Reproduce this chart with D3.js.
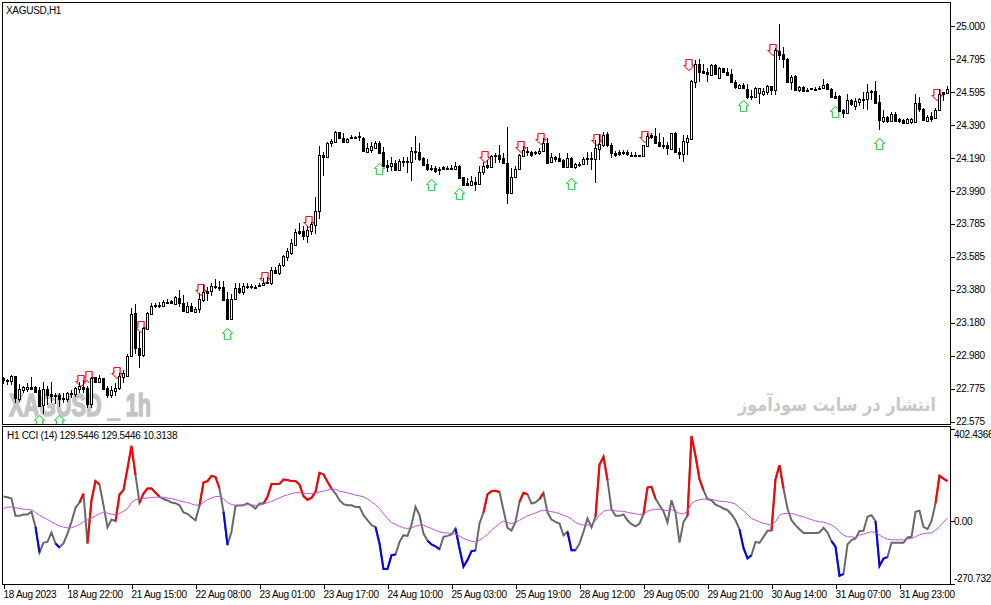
<!DOCTYPE html>
<html>
<head>
<meta charset="utf-8">
<title>XAGUSD H1</title>
<script src="https://cdn.jsdelivr.net/npm/d3@7"></script>
<style>
  html, body { margin: 0; padding: 0; background: #fff; }
  svg { display: block; }
  text { font-family: "Liberation Sans", sans-serif; font-size: 10px; letter-spacing: -0.3px; fill: #000; }
</style>
</head>
<body>
<div id="chart"></div>
<script>
// Hourly candles
const barOpen = [
  22.842,22.830,22.823,22.854,22.713,22.768,22.775,22.787,22.787,22.768,
  22.676,22.775,22.744,22.738,22.738,22.719,22.713,22.744,22.744,22.775,
  22.787,22.781,22.682,22.848,22.817,22.842,22.781,22.738,22.762,22.781,
  22.848,22.854,22.977,23.240,23.026,22.983,23.142,23.234,23.283,23.289,
  23.283,23.302,23.314,23.295,23.332,23.302,23.246,23.283,23.246,23.265,
  23.320,23.375,23.375,23.400,23.400,23.400,23.326,23.203,23.326,23.394,
  23.369,23.400,23.406,23.400,23.406,23.412,23.430,23.424,23.504,23.485,
  23.535,23.584,23.608,23.657,23.743,23.743,23.712,23.743,23.780,23.866,
  24.209,24.197,24.282,24.289,24.350,24.313,24.289,24.313,24.319,24.325,
  24.313,24.227,24.239,24.252,24.282,24.227,24.148,24.141,24.160,24.117,
  24.172,24.166,24.166,24.233,24.227,24.191,24.154,24.129,24.129,24.123,
  24.135,24.129,24.129,24.123,24.141,24.074,24.037,24.025,24.043,24.031,
  24.105,24.148,24.135,24.209,24.209,24.191,24.160,23.976,24.074,24.123,
  24.203,24.233,24.227,24.221,24.221,24.233,24.282,24.166,24.197,24.191,
  24.178,24.135,24.191,24.135,24.154,24.154,24.184,24.191,24.184,24.246,
  24.270,24.338,24.270,24.221,24.227,24.227,24.227,24.209,24.209,24.209,
  24.203,24.264,24.332,24.325,24.289,24.270,24.270,24.246,24.344,24.227,
  24.215,24.289,24.307,24.657,24.767,24.724,24.718,24.700,24.761,24.681,
  24.742,24.718,24.706,24.657,24.620,24.638,24.614,24.571,24.565,24.589,
  24.583,24.595,24.632,24.608,24.847,24.828,24.798,24.657,24.693,24.608,
  24.626,24.608,24.620,24.614,24.620,24.620,24.644,24.614,24.571,24.571,
  24.485,24.466,24.546,24.509,24.534,24.552,24.552,24.601,24.601,24.534,
  24.417,24.442,24.417,24.460,24.430,24.423,24.405,24.411,24.411,24.528,
  24.491,24.417,24.448,24.436,24.485,24.595,24.589
];
const barHigh = [
  22.848,22.836,22.860,22.854,22.805,22.793,22.811,22.848,22.793,22.787,
  22.817,22.793,22.817,22.750,22.750,22.750,22.756,22.768,22.787,22.817,
  22.830,22.793,22.848,22.848,22.860,22.842,22.793,22.793,22.811,22.873,
  22.891,22.989,23.271,23.295,23.124,23.154,23.246,23.302,23.302,23.308,
  23.320,23.326,23.320,23.345,23.381,23.351,23.308,23.302,23.277,23.363,
  23.418,23.400,23.424,23.449,23.436,23.436,23.369,23.357,23.424,23.424,
  23.424,23.424,23.418,23.412,23.424,23.455,23.461,23.522,23.522,23.547,
  23.596,23.639,23.694,23.755,23.792,23.774,23.774,23.798,23.951,24.264,
  24.227,24.289,24.307,24.356,24.350,24.344,24.313,24.332,24.325,24.350,
  24.319,24.282,24.289,24.295,24.295,24.258,24.178,24.197,24.178,24.184,
  24.197,24.197,24.258,24.325,24.282,24.197,24.184,24.148,24.141,24.135,
  24.141,24.141,24.148,24.166,24.148,24.074,24.068,24.080,24.074,24.141,
  24.166,24.178,24.209,24.221,24.270,24.221,24.380,24.129,24.141,24.215,
  24.264,24.258,24.233,24.233,24.252,24.313,24.313,24.221,24.203,24.221,
  24.184,24.221,24.197,24.160,24.166,24.197,24.227,24.227,24.301,24.332,
  24.350,24.350,24.282,24.233,24.239,24.239,24.239,24.227,24.227,24.209,
  24.270,24.344,24.344,24.374,24.344,24.319,24.289,24.344,24.350,24.252,
  24.332,24.332,24.669,24.792,24.798,24.767,24.742,24.767,24.767,24.748,
  24.742,24.742,24.736,24.669,24.644,24.650,24.644,24.608,24.626,24.620,
  24.620,24.638,24.632,24.865,25.012,24.871,24.804,24.700,24.700,24.632,
  24.632,24.620,24.620,24.626,24.632,24.675,24.650,24.620,24.595,24.577,
  24.491,24.583,24.552,24.558,24.558,24.595,24.644,24.608,24.663,24.577,
  24.485,24.448,24.473,24.473,24.436,24.430,24.436,24.436,24.583,24.565,
  24.497,24.454,24.473,24.497,24.614,24.595,24.632
];
const barLow = [
  22.805,22.799,22.799,22.689,22.695,22.750,22.756,22.775,22.750,22.664,
  22.621,22.676,22.689,22.682,22.664,22.689,22.695,22.719,22.725,22.750,
  22.750,22.658,22.658,22.811,22.811,22.775,22.719,22.719,22.732,22.768,
  22.811,22.848,22.971,22.989,22.903,22.971,23.136,23.234,23.271,23.271,
  23.277,23.302,23.295,23.289,23.277,23.246,23.246,23.246,23.240,23.240,
  23.308,23.314,23.345,23.387,23.375,23.314,23.197,23.197,23.320,23.357,
  23.351,23.387,23.387,23.387,23.406,23.406,23.418,23.412,23.485,23.473,
  23.522,23.559,23.596,23.651,23.718,23.688,23.669,23.718,23.725,23.817,
  24.080,24.191,24.258,24.282,24.307,24.282,24.282,24.307,24.307,24.295,
  24.227,24.221,24.221,24.246,24.215,24.135,24.105,24.111,24.111,24.111,
  24.135,24.098,24.049,24.178,24.172,24.141,24.111,24.111,24.098,24.086,
  24.123,24.117,24.117,24.117,24.062,24.019,24.025,24.019,23.988,24.025,
  24.086,24.123,24.135,24.160,24.160,24.154,23.908,23.976,24.068,24.117,
  24.197,24.203,24.197,24.209,24.209,24.227,24.154,24.160,24.166,24.166,
  24.129,24.135,24.135,24.123,24.135,24.148,24.148,24.117,24.037,24.178,
  24.258,24.258,24.191,24.197,24.203,24.209,24.203,24.203,24.203,24.197,
  24.197,24.258,24.307,24.282,24.258,24.246,24.209,24.246,24.221,24.184,
  24.166,24.209,24.301,24.620,24.657,24.706,24.657,24.693,24.700,24.681,
  24.712,24.693,24.657,24.614,24.614,24.614,24.552,24.546,24.558,24.522,
  24.571,24.577,24.577,24.577,24.792,24.742,24.657,24.608,24.601,24.595,
  24.595,24.595,24.608,24.601,24.608,24.614,24.608,24.558,24.558,24.473,
  24.436,24.466,24.509,24.485,24.509,24.491,24.485,24.546,24.522,24.362,
  24.405,24.405,24.411,24.411,24.405,24.399,24.399,24.399,24.405,24.473,
  24.417,24.411,24.411,24.430,24.479,24.540,24.583
];
const barClose = [
  22.830,22.823,22.854,22.719,22.775,22.787,22.787,22.775,22.756,22.670,
  22.775,22.738,22.732,22.732,22.713,22.713,22.750,22.750,22.781,22.793,
  22.775,22.682,22.842,22.817,22.842,22.775,22.738,22.768,22.781,22.854,
  22.873,22.977,23.234,23.026,22.983,23.148,23.240,23.283,23.289,23.283,
  23.308,23.308,23.302,23.338,23.302,23.253,23.283,23.253,23.265,23.326,
  23.369,23.363,23.406,23.406,23.394,23.320,23.203,23.326,23.394,23.369,
  23.406,23.406,23.400,23.394,23.412,23.424,23.424,23.504,23.485,23.535,
  23.590,23.620,23.669,23.737,23.731,23.712,23.749,23.786,23.866,24.209,
  24.197,24.282,24.295,24.350,24.313,24.289,24.307,24.319,24.313,24.319,
  24.233,24.252,24.264,24.282,24.221,24.141,24.135,24.160,24.117,24.172,
  24.166,24.172,24.233,24.227,24.184,24.148,24.123,24.123,24.111,24.117,
  24.123,24.123,24.123,24.141,24.068,24.025,24.025,24.049,24.031,24.105,
  24.141,24.135,24.203,24.203,24.184,24.160,23.976,24.074,24.123,24.209,
  24.239,24.227,24.209,24.227,24.233,24.282,24.160,24.197,24.184,24.172,
  24.135,24.191,24.135,24.154,24.148,24.184,24.191,24.184,24.252,24.276,
  24.332,24.270,24.221,24.209,24.215,24.221,24.215,24.203,24.203,24.203,
  24.270,24.325,24.319,24.282,24.264,24.264,24.252,24.344,24.227,24.215,
  24.295,24.313,24.663,24.767,24.718,24.712,24.706,24.761,24.706,24.742,
  24.718,24.700,24.657,24.626,24.638,24.620,24.565,24.565,24.620,24.620,
  24.601,24.632,24.608,24.853,24.822,24.798,24.657,24.687,24.608,24.626,
  24.601,24.601,24.614,24.608,24.614,24.638,24.614,24.565,24.558,24.479,
  24.466,24.546,24.522,24.540,24.552,24.546,24.595,24.595,24.528,24.423,
  24.442,24.417,24.460,24.417,24.417,24.405,24.430,24.430,24.528,24.491,
  24.423,24.442,24.430,24.485,24.583,24.583,24.614
];

// CCI (14) and its moving average, one value per bar
const cciValues = [
  107,104,98,23,23,29,29,41,-25,-136,
  -93,-90,-49,-97,-114,-97,-54,-3,58,81,
  120,-97,91,174,159,69,-27,7,0,116,
  135,229,327,200,80,120,142,142,124,106,
  96,90,81,78,69,38,32,17,4,67,
  168,174,197,192,142,41,-104,-46,67,68,
  69,77,68,55,77,77,106,161,161,162,
  181,179,174,174,159,109,93,101,127,210,
  203,171,142,120,91,74,69,69,62,62,
  26,4,-17,-25,-97,-208,-208,-148,-145,-90,
  -61,-64,-17,62,26,-54,-85,-101,-109,-122,
  -68,-64,-58,-32,-119,-197,-169,-130,-127,-10,
  38,117,130,132,127,48,-29,-41,-3,84,
  123,117,77,82,96,123,38,7,-3,-10,
  -61,-46,-126,-126,-97,-46,12,-27,19,246,
  279,178,52,23,23,29,4,-13,-22,-10,
  29,146,149,98,69,43,-6,91,38,-93,
  -3,23,370,284,182,135,96,91,72,64,
  55,48,29,4,-35,-116,-162,-148,-90,-94,
  -68,-42,-41,182,243,142,55,4,-17,-35,
  -51,-51,-51,-51,-49,-29,-49,-87,-111,-237,
  -230,-101,-82,-75,-43,-42,19,26,0,-194,
  -162,-156,-94,-94,-94,-94,-71,-68,41,45,
  -25,-35,0,77,197,185,174
];
const cciAverage = [
  55,61,62,58,55,52,51,49,38,26,
  16,7,-3,-12,-20,-26,-29,-29,-22,-14,
  -3,6,12,23,33,38,35,30,29,33,
  43,55,81,93,96,98,101,103,104,104,
  104,101,98,94,88,84,81,75,69,72,
  82,93,101,107,107,96,81,72,69,69,
  71,72,71,68,69,75,80,85,94,101,
  109,114,120,123,124,120,120,120,122,127,
  130,135,139,139,130,127,123,119,113,110,
  106,96,84,72,55,32,12,-6,-14,-22,
  -29,-32,-29,-22,-17,-17,-25,-32,-39,-46,
  -51,-51,-54,-56,-65,-75,-82,-87,-90,-82,
  -71,-58,-39,-25,-10,0,-6,-10,-6,4,
  14,23,29,36,43,48,45,41,38,33,
  26,19,9,-6,-13,-17,-17,-14,4,26,
  43,48,48,45,43,43,38,35,32,29,
  29,43,49,52,51,49,46,51,41,33,
  32,43,77,87,93,96,96,94,91,87,
  85,84,80,74,59,45,29,12,4,-3,
  -10,-13,-17,-3,26,33,33,33,29,23,
  19,12,7,1,-3,-4,-10,-17,-27,-46,
  -61,-68,-68,-71,-61,-56,-51,-46,-49,-61,
  -71,-78,-81,-81,-81,-81,-78,-75,-68,-59,
  -54,-52,-51,-39,-25,-3,12
];
// stretches of the CCI line drawn in red or blue, first and last bar
const redRuns = [[19,20],[21,24],[28,33],[34,39],[49,54],[65,82],[120,124],[129,131],
  [134,135],[148,151],[160,163],[171,175],[192,195],[233,236]];
const blueRuns = [[8,9],[13,14],[55,56],[93,98],[106,109],[113,118],[141,143],
  [184,187],[207,210],[218,221]];

// signal arrows
const sellBars = [19,21,28,34,49,65,76,120,129,134,148,160,171,192,233];
const sellPrices = [22.860,22.885,22.909,23.191,23.418,23.492,23.835,24.233,24.295,24.344,24.338,24.356,24.798,24.889,24.614];
const buyBars = [9,14,56,94,107,114,142,185,208,219];
const buyPrices = [22.615,22.615,23.148,24.160,24.062,24.006,24.068,24.546,24.509,24.313];

const priceLabels = ["25.000","24.795","24.595","24.390","24.190","23.990","23.785","23.585","23.380","23.180","22.980","22.775","22.575"];
const priceStep = 0.2021;
const timeLabels = ["18 Aug 2023","18 Aug 22:00","21 Aug 15:00","22 Aug 08:00","23 Aug 01:00","23 Aug 17:00","24 Aug 10:00","25 Aug 03:00",
  "25 Aug 19:00","28 Aug 12:00","29 Aug 05:00","29 Aug 21:00","30 Aug 14:00","31 Aug 07:00","31 Aug 23:00"];
const barsPerLabel = 16;
const cciTickValues = [402.4366, 0, -270.7324];
const cciTickLabels = ["402.4366", "0.00", "-270.7324"];

const width = 991, height = 605;
const svg = d3.select("#chart").append("svg").attr("width", width).attr("height", height);

// scales
const x = d3.scaleLinear().domain([0, barOpen.length - 1]).range([3.5, 947.5]);
const y = d3.scaleLinear().domain([22.575, 25]).range([421.5, 26]);
const yCci = d3.scaleLinear().domain([-270.7324, 402.4366]).range([583.5, 428.5]);

// clip areas
const defs = svg.append("defs");
defs.append("clipPath").attr("id", "mainClip").append("rect")
  .attr("x", 3).attr("y", 3).attr("width", 947).attr("height", 421);
defs.append("clipPath").attr("id", "cciClip").append("rect")
  .attr("x", 3).attr("y", 427).attr("width", 947).attr("height", 157);

// watermarks sit under the candles
svg.append("text").attr("x", 9).attr("y", 416)
  .attr("textLength", 142).attr("lengthAdjust", "spacingAndGlyphs")
  .style("font-size", "32px").style("font-weight", "bold").style("letter-spacing", "0")
  .style("fill", "#c4c4c4").style("stroke", "#c4c4c4").style("stroke-width", "1.6px")
  .text("XAGUSD _ 1h");
svg.append("text").attr("x", 936).attr("y", 411)
  .attr("direction", "rtl").attr("textLength", 198).attr("lengthAdjust", "spacingAndGlyphs")
  .style("font-family", "'DejaVu Sans'").style("font-size", "19px").style("font-weight", "bold")
  .style("letter-spacing", "0").style("fill", "#c8c8c8")
  .text("انتشار در سایت سودآموز");

// arrows
const main = svg.append("g").attr("clip-path", "url(#mainClip)");
const upArrow = "M0,0L5,5L3,5L3,11L-3,11L-3,5L-5,5Z";
const downArrow = "M0,11L-5,6L-3,6L-3,0L3,0L3,6L5,6Z";

function drawArrows(bars, prices, path, dx, colors) {
  const g = main.append("g").selectAll("g").data(bars).join("g")
    .attr("transform", (d, i) => `translate(${x(d) + dx},${Math.round(y(prices[i])) + 0.5})`);
  colors.forEach(c => {
    g.append("path").attr("d", path)
      .attr("transform", `translate(${c.shift},0)`)
      .attr("fill", "#fff").attr("stroke", c.color).attr("stroke-width", 1);
  });
}
drawArrows(sellBars, sellPrices, downArrow, 1.5, [
  { color: "#ff9a50", shift: -0.6 }, { color: "#ff70d0", shift: 0.6 }, { color: "#f01020", shift: 0 }
]);
drawArrows(buyBars, buyPrices, upArrow, 0, [
  { color: "#e8e840", shift: -0.6 }, { color: "#50e8e0", shift: 0.6 }, { color: "#40d060", shift: 0 }
]);

// candles
const bars = d3.range(barOpen.length);
main.append("g").attr("shape-rendering", "crispEdges").selectAll("line").data(bars).join("line")
  .attr("x1", i => x(i)).attr("x2", i => x(i))
  .attr("y1", i => y(barHigh[i])).attr("y2", i => y(barLow[i]))
  .attr("stroke", "#000");
main.append("g").attr("shape-rendering", "crispEdges").selectAll("rect").data(bars).join("rect")
  .attr("x", i => x(i) - 1)
  .attr("width", 2)
  .attr("y", i => Math.round(y(Math.max(barOpen[i], barClose[i]))) + 0.5)
  .attr("height", i => Math.max(0, Math.round(y(Math.min(barOpen[i], barClose[i]))) - Math.round(y(Math.max(barOpen[i], barClose[i])))))
  .attr("fill", i => barClose[i] > barOpen[i] ? "#fff" : "#000")
  .attr("stroke", "#000").attr("stroke-width", 1);

// CCI lines
const cciPanel = svg.append("g").attr("clip-path", "url(#cciClip)");
const cciLine = d3.line().x(i => x(i)).y(i => yCci(cciValues[i]));
const avgLine = d3.line().x(i => x(i)).y(i => yCci(cciAverage[i]));
cciPanel.append("path").attr("d", cciLine(d3.range(cciValues.length)))
  .attr("fill", "none").attr("stroke", "#696969").attr("stroke-width", 2);
function drawRuns(runs, color) {
  cciPanel.append("g").selectAll("path").data(runs).join("path")
    .attr("d", r => cciLine(d3.range(r[0], r[1] + 1)))
    .attr("fill", "none").attr("stroke", color).attr("stroke-width", 2);
}
drawRuns(redRuns, "#ff0000");
drawRuns(blueRuns, "#0000ff");
cciPanel.append("path").attr("d", avgLine(d3.range(cciAverage.length)))
  .attr("fill", "none").attr("stroke", "#ba55d3").attr("stroke-width", 1);

// frames
[[2.5, 2.5, 948, 422], [2.5, 426.5, 948, 158]].forEach(f => {
  svg.append("rect").attr("x", f[0]).attr("y", f[1]).attr("width", f[2]).attr("height", f[3])
    .attr("fill", "none").attr("stroke", "#000").attr("shape-rendering", "crispEdges");
});

// axes
const priceAxis = svg.append("g").attr("transform", "translate(950.5,0)")
  .call(d3.axisRight(y)
    .tickValues(priceLabels.map((d, i) => 25 - i * priceStep))
    .tickFormat((d, i) => priceLabels[i])
    .tickSize(4).tickSizeOuter(0));
const cciAxis = svg.append("g").attr("transform", "translate(950.5,0)")
  .call(d3.axisRight(yCci)
    .tickValues(cciTickValues)
    .tickFormat((d, i) => cciTickLabels[i])
    .tickSize(4).tickSizeOuter(0));
const timeAxis = svg.append("g").attr("transform", "translate(0,584.5)")
  .call(d3.axisBottom(x)
    .tickValues(timeLabels.map((d, i) => i * barsPerLabel))
    .tickFormat((d, i) => timeLabels[i])
    .tickSize(4).tickSizeOuter(0));
[priceAxis, cciAxis, timeAxis].forEach(a => {
  a.select(".domain").remove();
  a.attr("font-family", null).attr("font-size", null);
  a.selectAll("line").attr("shape-rendering", "crispEdges");
});
priceAxis.selectAll("text").attr("x", 5.5).attr("dy", "0.32em");
cciAxis.selectAll("text").attr("x", 3.5).attr("dy", (d, i) => i === 0 ? "0.85em" : i === 2 ? "-0.25em" : "0.32em");
timeAxis.selectAll("text").attr("text-anchor", "start").attr("x", -0.5).attr("y", 6).attr("dy", "0.71em");

// captions
svg.append("text").attr("x", 6).attr("y", 14).text("XAGUSD,H1");
svg.append("text").attr("x", 7).attr("y", 439).text("H1 CCI (14) 129.5446 129.5446 10.3138");
</script>
</body>
</html>
